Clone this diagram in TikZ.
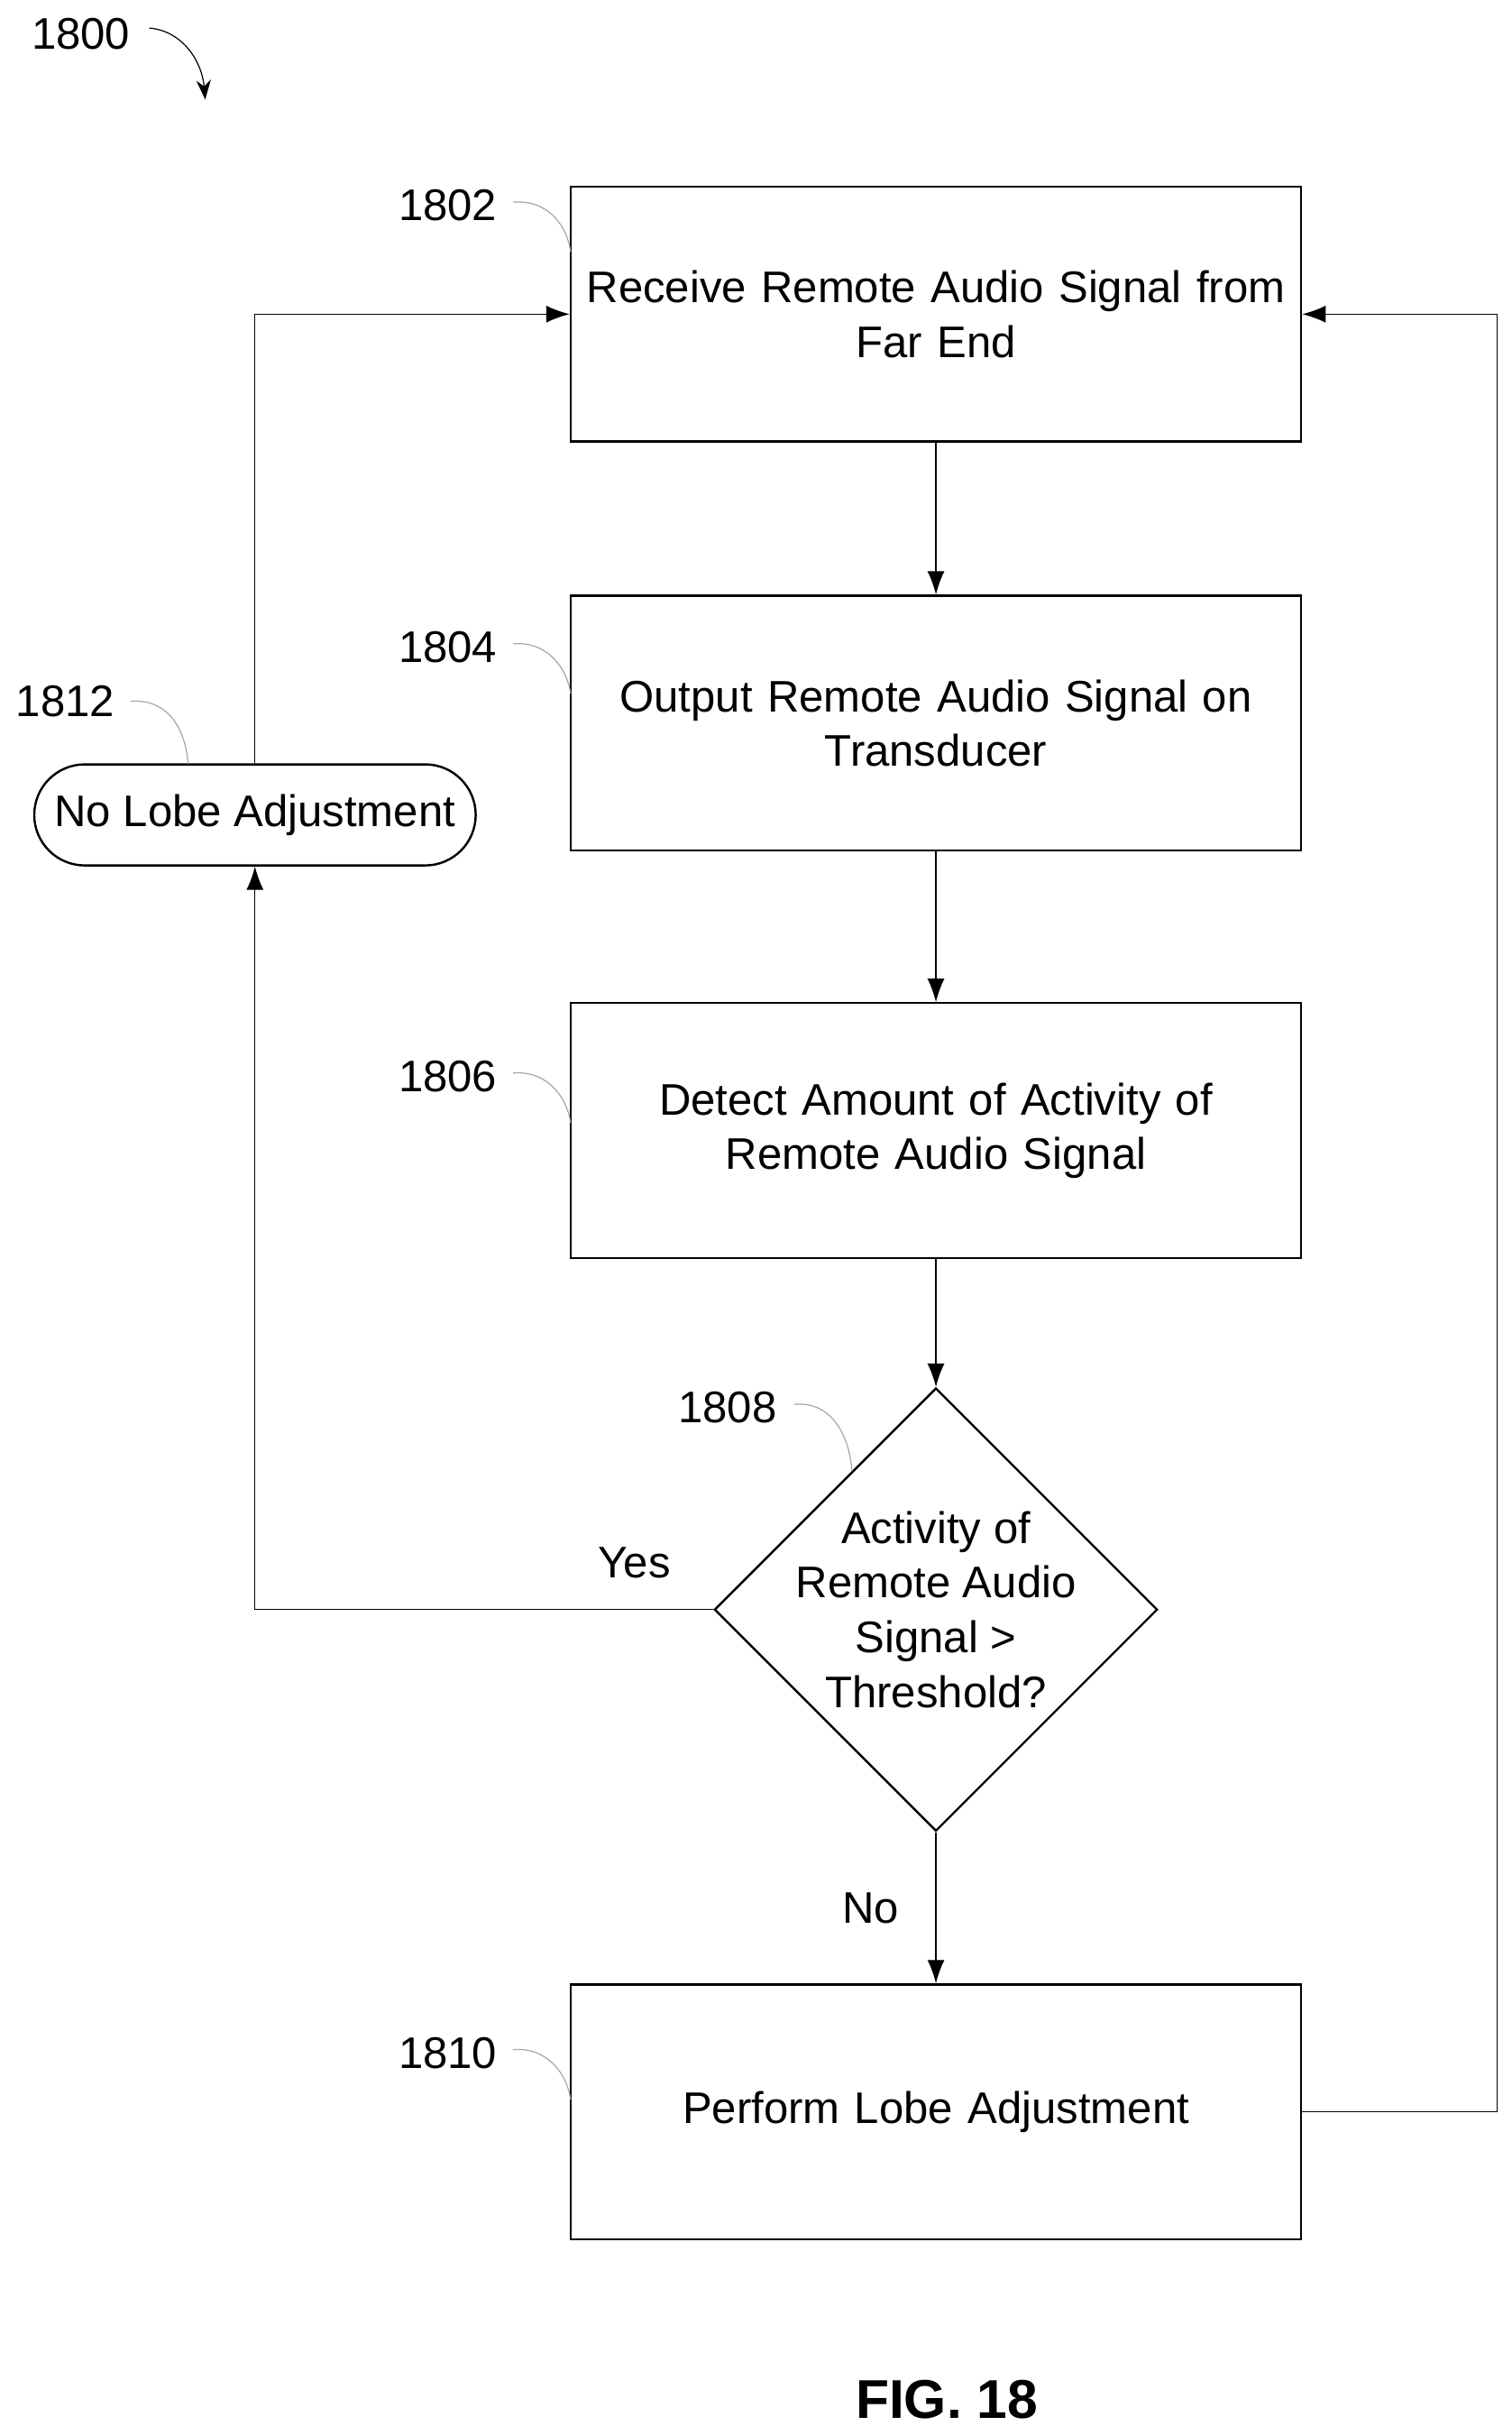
\documentclass[tikz,border=0pt]{standalone}
\usepackage{fontspec}
\setmainfont{Liberation Sans}
\usetikzlibrary{shapes.geometric}
\usetikzlibrary{arrows.meta}
\tikzset{
	procbox/.style={draw, thick, minimum width=9.4cm, minimum height=3.28cm, align=center, text width=9.0cm},
	ref/.style={gray!70, thin},
	conn/.style={thin, -{Latex[length=3mm, width=2.2mm]}}
}
\begin{document}
\begin{tikzpicture}[x=0.02cm, y=-0.02cm, font=\fontsize{16.2}{20}\selectfont]
	\useasboundingbox (0, 0) rectangle (972, 1560);

	\node (n1800) at (52, 22) {1800};
	\draw[->, >={Stealth[length=2.5mm]}] (96, 18) .. controls (118, 20) and (130, 40) .. (132, 64);

	\node[procbox] (s1802) at (602, 202) {Receive Remote Audio Signal from\\Far End};
	\node[procbox] (s1804) at (602, 465) {Output Remote Audio Signal on\\Transducer};
	\node[procbox] (s1806) at (602, 727) {Detect Amount of Activity of\\Remote Audio Signal};
	\node[draw, thick, diamond, minimum width=5.7cm, minimum height=5.7cm, inner sep=-4pt, align=center] (d1808) at (602, 1035) {Activity of\\Remote Audio\\Signal >\\Threshold?};
	\node[procbox] (s1810) at (602, 1358) {Perform Lobe Adjustment};
	\node[draw, thick, rounded corners=0.65cm, minimum width=5.68cm, minimum height=1.3cm] (s1812) at (164, 524) {No Lobe Adjustment};

	\coordinate (c1) at (164, 1035);
	\coordinate (c2) at (164, 202);
	\coordinate (c3) at (963, 1358);
	\coordinate (c4) at (963, 202);

	\draw[conn] (s1802) -- (s1804);
	\draw[conn] (s1804) -- (s1806);
	\draw[conn] (s1806) -- (d1808);
	\draw[conn] (d1808) -- node[left, xshift=-10pt] {No} (s1810);
	\draw[conn] (d1808.west) -- (c1) -- (s1812.south);
	\draw[conn] (s1812.north) -- (c2) -- (s1802.west);
	\draw[conn] (s1810.east) -- (c3) -- (c4) -- (s1802.east);
	\node (yes) at (408, 1005) {Yes};

	% reference numerals
	\node (n1802) at (288, 132) {1802};
	\draw[ref] (330, 130) .. controls (352, 128) and (365, 145) .. (367, 162);
	\node (n1804) at (288, 416) {1804};
	\draw[ref] (330, 414) .. controls (352, 412) and (365, 430) .. (367, 446);
	\node (n1806) at (288, 692) {1806};
	\draw[ref] (330, 690) .. controls (352, 688) and (365, 706) .. (367, 722);
	\node (n1808) at (468, 905) {1808};
	\draw[ref] (511, 903) .. controls (533, 901) and (546, 920) .. (548, 946);
	\node (n1810) at (288, 1320) {1810};
	\draw[ref] (330, 1318) .. controls (352, 1316) and (365, 1334) .. (367, 1350);
	\node (n1812) at (42, 451) {1812};
	\draw[ref] (84, 451) .. controls (106, 449) and (119, 466) .. (121, 491);

	\node[font=\fontsize{20}{24}\selectfont\bfseries] (fig) at (609, 1543) {FIG. 18};
\end{tikzpicture}
\end{document}
